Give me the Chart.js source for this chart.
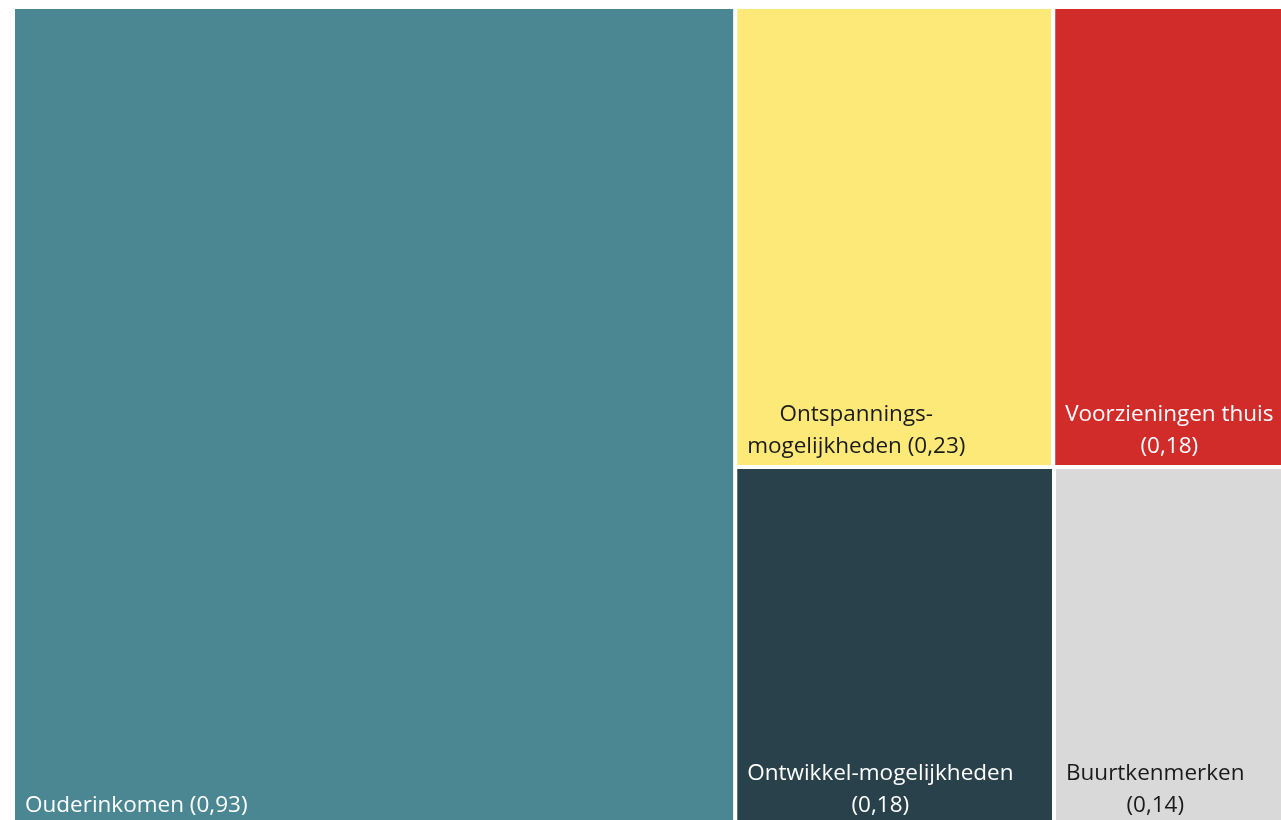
<!DOCTYPE html>
<html>
<head>
<meta charset="utf-8">
<script src="https://cdn.jsdelivr.net/npm/chart.js@4/dist/chart.umd.min.js"></script>
<style>
  html, body { margin: 0; padding: 0; background: #fff; overflow: hidden; }
  #wrap { width: 1281px; height: 820px; overflow: hidden; }
  canvas { display: block; }
</style>
</head>
<body>
<div id="wrap"><canvas id="treemap" width="1310" height="830"></canvas></div>
<script>
// Data
const names = [
    ['Ouderinkomen'],
    ['Ontspannings-', 'mogelijkheden'],
    ['Voorzieningen thuis', ''],
    ['Ontwikkel-mogelijkheden', ''],
    ['Buurtkenmerken', '']
];
const values = [0.93, 0.23, 0.18, 0.18, 0.14];
const colors = ['#4B8793', '#FCE977', '#D12B2A', '#28414B', '#D9D9D9'];
const textColors = ['#ffffff', '#1a1a1a', '#ffffff', '#ffffff', '#1a1a1a'];

// Layout space (same aspect as the chart area)
const AREA_W = 1289;
const AREA_H = 819;

function worst(row, side) {
    const s = row.reduce((a, r) => a + r.area, 0);
    const max = Math.max(...row.map(r => r.area));
    const min = Math.min(...row.map(r => r.area));
    return Math.max(side * side * max / (s * s), (s * s) / (side * side * min));
}

// Squarified treemap
function squarify(vals, W, H) {
    const total = vals.reduce((a, b) => a + b, 0);
    let items = vals.map((v, i) => ({ i, area: v / total * W * H }));
    const rects = [];
    let x = 0, y = 0, w = W, h = H;
    let row = [];

    function layoutRow(r) {
        const s = r.reduce((a, it) => a + it.area, 0);
        if (w >= h) {
            const cw = s / h;
            let yy = y;
            r.forEach(it => {
                const ih = it.area / cw;
                rects[it.i] = { x0: x, x1: x + cw, y0: yy, y1: yy + ih };
                yy += ih;
            });
            x += cw; w -= cw;
        } else {
            const rh = s / w;
            let xx = x;
            r.forEach(it => {
                const iw = it.area / rh;
                rects[it.i] = { x0: xx, x1: xx + iw, y0: y, y1: y + rh };
                xx += iw;
            });
            y += rh; h -= rh;
        }
    }

    while (items.length) {
        const side = Math.min(w, h);
        const next = items[0];
        if (row.length === 0 || worst(row.concat([next]), side) <= worst(row, side)) {
            row.push(next);
            items.shift();
        } else {
            layoutRow(row);
            row = [];
        }
    }
    if (row.length) layoutRow(row);
    return rects;
}

const rects = squarify(values, AREA_W, AREA_H);

const datasets = rects.map((r, i) => ({
    label: names[i].join(' '),
    data: [
        { x: r.x0, y: r.y0 },
        { x: r.x1, y: r.y0 },
        { x: r.x1, y: r.y1 },
        { x: r.x0, y: r.y1 },
        { x: r.x0, y: r.y0 }
    ],
    backgroundColor: colors[i],
    borderColor: '#ffffff',
    borderWidth: 4,
    borderJoinStyle: 'miter',
    fill: 'shape',
    tension: 0,
    pointRadius: 0,
    pointHoverRadius: 0,
    clip: false
}));

function fmt(v) {
    return '(' + v.toFixed(2).replace('.', ',') + ')';
}

// Tekst in de vlakken
const cellLabels = {
    id: 'cellLabels',
    afterDatasetsDraw(chart) {
        const { ctx, scales } = chart;
        ctx.save();
        ctx.font = '22.5px "Open Sans", "Noto Sans", sans-serif';
        ctx.textBaseline = 'alphabetic';
        ctx.textAlign = 'center';
        rects.forEach((r, i) => {
            const left = scales.x.getPixelForValue(r.x0);
            const bottom = scales.y.getPixelForValue(r.y1);
            const lines = names[i].slice();
            const last = lines.length - 1;
            lines[last] = (lines[last] ? lines[last] + ' ' : '') + fmt(values[i]);
            const blockW = Math.max(...lines.map(l => ctx.measureText(l).width));
            const cx = left + 12 + blockW / 2;
            ctx.fillStyle = textColors[i];
            lines.forEach((l, k) => {
                const baseline = bottom - 14 - (last - k) * 32;
                ctx.fillText(l, cx, baseline);
            });
        });
        ctx.restore();
    }
};

new Chart(document.getElementById('treemap').getContext('2d'), {
    type: 'line',
    data: { datasets },
    options: {
        responsive: false,
        animation: false,
        events: [],
        layout: { padding: { left: 13, top: 7, right: 8, bottom: 4 } },
        plugins: {
            legend: { display: false },
            tooltip: { enabled: false }
        },
        scales: {
            x: { type: 'linear', min: 0, max: AREA_W, display: false },
            y: { type: 'linear', min: 0, max: AREA_H, reverse: true, display: false }
        }
    },
    plugins: [cellLabels]
});
</script>
</body>
</html>
